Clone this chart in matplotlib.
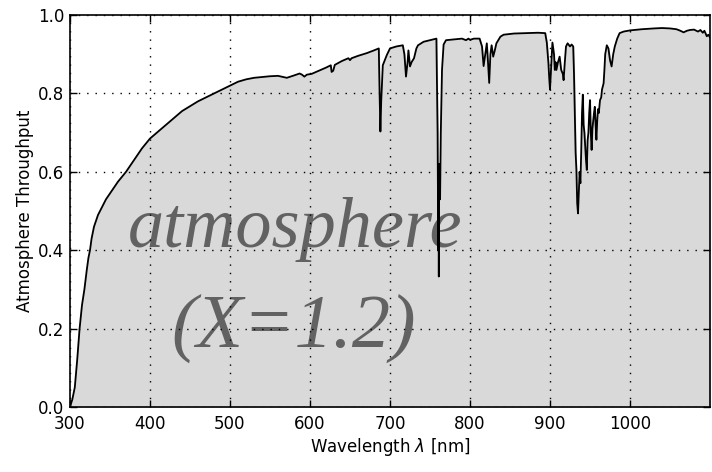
import numpy as np
import matplotlib.pyplot as plt

# throughput curve, split in wavelength segments
uv_wl = [300, 303, 306, 309, 312, 315, 318, 321, 323, 325, 327, 330, 335, 340, 345, 350,
         360, 370, 380, 390, 400, 420, 440, 460, 480, 500, 510, 520, 530, 540, 550, 560]
uv_tp = [0.0, 0.02, 0.05, 0.12, 0.20, 0.26, 0.30, 0.35, 0.38, 0.40, 0.43, 0.46, 0.49, 0.51,
         0.53, 0.545, 0.575, 0.60, 0.63, 0.66, 0.685, 0.72, 0.755, 0.78, 0.80, 0.82, 0.83,
         0.836, 0.84, 0.842, 0.844, 0.845]

vis_wl = [571, 580, 587, 590, 593, 596, 602, 610, 620, 626, 627, 629, 631, 640, 648, 650,
          652, 660, 671, 680, 686, 687, 688, 689, 691, 696, 700, 708, 716, 718, 720, 722,
          723, 725, 727, 730, 733, 735, 742, 750, 758, 759.5, 760.3, 760.6, 761, 761.4,
          761.8, 762.2, 762.6, 763.5, 765, 767, 770, 780, 790, 795, 798, 800, 805, 812]
vis_tp = [0.84, 0.846, 0.851, 0.848, 0.843, 0.848, 0.85, 0.857, 0.866, 0.872, 0.855, 0.858,
          0.873, 0.883, 0.89, 0.885, 0.89, 0.896, 0.903, 0.91, 0.915, 0.80, 0.703, 0.78,
          0.872, 0.898, 0.915, 0.92, 0.923, 0.90, 0.843, 0.88, 0.91, 0.869, 0.88, 0.89,
          0.915, 0.923, 0.932, 0.936, 0.94, 0.70, 0.40, 0.62, 0.333, 0.60, 0.53, 0.62, 0.53,
          0.70, 0.86, 0.925, 0.936, 0.938, 0.94, 0.936, 0.94, 0.937, 0.94, 0.94]

ir_wl = [815, 817, 819, 821, 822.5, 824, 825.5, 827, 829, 831, 833, 838, 842, 855, 871, 885,
         894, 896, 898, 899, 900, 901.5, 903, 905, 906, 907, 908, 910, 912, 914, 916, 917,
         918.5, 920, 922, 925, 927, 929, 930, 931, 932, 933, 934, 935, 936, 937, 938, 939,
         940, 941, 942, 943, 944, 945, 946, 947, 948, 949, 950, 951, 952, 953, 954, 955,
         956, 957, 958, 959, 960, 961, 962.5, 964, 965, 967, 968, 969, 971, 973, 975, 977,
         979, 981, 984, 987, 992, 1000, 1015, 1030, 1040, 1050, 1058, 1063, 1067, 1071,
         1075, 1080, 1085, 1088, 1091, 1093, 1096, 1098, 1100]
ir_tp = [0.92, 0.87, 0.90, 0.928, 0.88, 0.827, 0.90, 0.923, 0.894, 0.91, 0.928, 0.945, 0.95,
         0.953, 0.954, 0.955, 0.954, 0.93, 0.878, 0.84, 0.81, 0.87, 0.93, 0.90, 0.86, 0.88,
         0.86, 0.88, 0.894, 0.86, 0.85, 0.834, 0.88, 0.92, 0.928, 0.92, 0.925, 0.92, 0.85,
         0.75, 0.65, 0.605, 0.52, 0.494, 0.55, 0.60, 0.571, 0.65, 0.75, 0.797, 0.72, 0.70,
         0.665, 0.63, 0.605, 0.68, 0.70, 0.75, 0.783, 0.70, 0.656, 0.71, 0.73, 0.75, 0.766,
         0.72, 0.682, 0.73, 0.76, 0.75, 0.783, 0.79, 0.81, 0.826, 0.86, 0.90, 0.923, 0.915,
         0.885, 0.869, 0.90, 0.92, 0.94, 0.954, 0.958, 0.961, 0.964, 0.966, 0.967, 0.966,
         0.964, 0.96, 0.956, 0.96, 0.962, 0.963, 0.958, 0.962, 0.955, 0.96, 0.946, 0.95, 0.943]

wl = np.array(uv_wl + vis_wl + ir_wl)
tp = np.array(uv_tp + vis_tp + ir_tp)

plt.rcParams['font.family'] = 'DejaVu Sans'
plt.rcParams['font.size'] = 12

fig = plt.figure(figsize=(7.12, 4.72), dpi=100)
ax = fig.add_subplot(111)
fig.subplots_adjust(left=0.0983, right=0.9972, bottom=0.1377, top=0.968)

ax.fill_between(wl, 0, tp, color='#d9d9d9', zorder=1)
ax.text(582, 0.409, 'atmosphere', ha='center', va='baseline', fontsize=52,
        style='italic', family='Liberation Serif', color='#626262', zorder=2)
ax.text(580, 0.153, '(X=1.2)', ha='center', va='baseline', fontsize=55,
        style='italic', family='Liberation Serif', color='#626262', zorder=2)
ax.plot(wl, tp, color='black', lw=1.3, zorder=4)

ax.set_xlim(300, 1100)
ax.set_ylim(0, 1.0)
ax.set_xticks([300, 400, 500, 600, 700, 800, 900, 1000])
ax.set_yticks([0.0, 0.2, 0.4, 0.6, 0.8, 1.0])
ax.grid(True, color='black', linestyle=(0, (1, 5)), linewidth=1, zorder=3)
ax.set_axisbelow(False)
ax.tick_params(direction='in', top=True, right=True, length=5, width=1, pad=4)
ax.tick_params(axis='x', pad=6)
for s in ax.spines.values():
    s.set_linewidth(1.2)
    s.set_zorder(5)

ax.set_xlabel(r'Wavelength $\lambda$ [nm]', labelpad=2)
ax.set_ylabel('Atmosphere Throughput', labelpad=3)

fig.savefig('out.png', dpi=100)
